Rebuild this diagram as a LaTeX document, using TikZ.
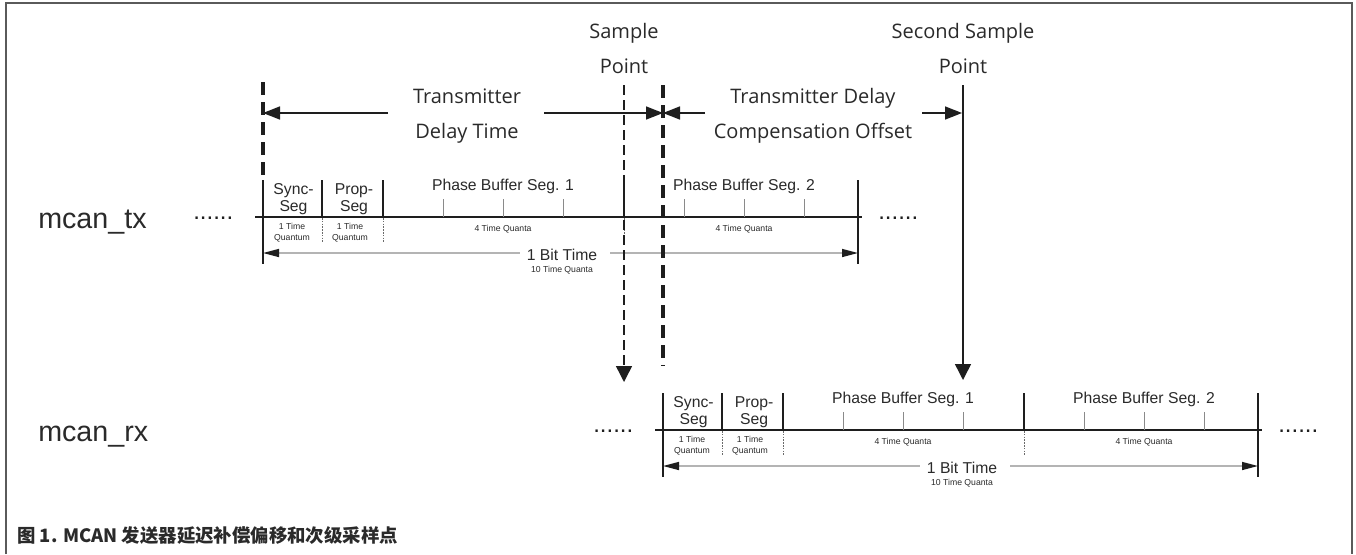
\documentclass[tikz,border=0pt]{standalone}
\usepackage{fontspec}
\setmainfont{Liberation Sans}
\newfontfamily\labfont{Open Sans}
\newfontfamily\capfont{Noto Sans CJK SC}
\usetikzlibrary{arrows.meta}
\definecolor{ink}{HTML}{1E1E1E}
\definecolor{txtc}{HTML}{2A2A2A}
\definecolor{framec}{HTML}{5A5A5A}
\definecolor{lightln}{HTML}{B4B4B4}
\definecolor{qtickc}{HTML}{8A8A8A}
\definecolor{dotc}{HTML}{6A6A6A}
\tikzset{
  baseln/.style={draw=ink,line width=1.5pt},
  bnd/.style={draw=ink,line width=1.5pt},
  qtick/.style={draw=qtickc,line width=0.75pt},
  dotln/.style={draw=dotc,line width=0.75pt,dash pattern=on 1.2pt off 0.9pt},
  bitarr/.style={draw=lightln,line width=1.1pt,-{Triangle[length=12pt,width=6pt,color=ink]}},
  seglab/.style={font=\fontsize{11.8}{12.75}\selectfont,text=txtc,inner sep=0pt,align=center},
  tinylab/.style={font=\fontsize{6.5}{8.25}\selectfont,text=txtc,inner sep=0pt,align=center},
  biglab/.style={font=\labfont\fontsize{15}{26.25}\selectfont,text=txtc,inner sep=0pt,align=center},
  siglab/.style={font=\fontsize{21.5}{24}\selectfont,text=txtc,inner sep=0pt},
  dotslab/.style={font=\fontsize{18}{20}\selectfont,text=ink,inner sep=0pt},
  thickdash/.style={draw=ink,line width=2.3pt,dash pattern=on 9.75pt off 5.25pt},
  thindash/.style={draw=ink,line width=1.1pt,dash pattern=on 7.5pt off 3.75pt},
  hdarr/.style={draw=ink,line width=1.2pt,-{Triangle[length=12.75pt,width=9.75pt]}},
  vdarr/.style={-{Triangle[length=12pt,width=12pt,color=ink]}},
}
\newcommand\bitrow[1]{%
  \coordinate (#1s0) at (263,180);
  \draw[baseln] (255,217) -- (862,217);
  \foreach \x in {322,383,624} \draw[bnd] (\x,180) -- (\x,217);
  \draw[bnd] (#1s0) -- (263,264);
  \draw[bnd] (858,180) -- (858,264);
  \foreach \x in {443,503,563,684,744,804} \draw[qtick] (\x,199) -- (\x,217);
  \foreach \x in {322,383,624} \draw[dotln] (\x,218) -- (\x,243);
  \node[dotslab,anchor=base west] (#1dl) at (193,219) {......};
  \node[dotslab,anchor=base west] (#1dr) at (878,219) {......};
  \node[seglab] (#1sync) at (293.5,199.4) {Sync-\\Seg};
  \node[seglab] (#1prop) at (354,199.5) {Prop-\\Seg};
  \node[seglab,anchor=base] (#1pb1) at (503,190) {Phase Buffer Seg. 1};
  \node[seglab,anchor=base] (#1pb2) at (744,190) {Phase Buffer Seg. 2};
  \node[tinylab] (#1q1) at (292,232.6) {1 Time\\Quantum};
  \node[tinylab] (#1q2) at (350,232.6) {1 Time\\Quantum};
  \node[tinylab,anchor=base] (#1q3) at (503,231) {4 Time Quanta};
  \node[tinylab,anchor=base] (#1q4) at (744,231) {4 Time Quanta};
  \node[seglab,anchor=base] (#1bit) at (562,260) {1 Bit Time};
  \node[tinylab,anchor=base] (#1bitq) at (562,272) {10 Time Quanta};
  \coordinate (#1bl) at (263,253);
  \coordinate (#1br) at (858,253);
  \draw[bitarr] (#1bit.west |- #1bl) ++(-7,0) -- (#1bl);
  \draw[bitarr] (#1bit.east |- #1br) ++(13,0) -- (#1br);
}
\begin{document}
\begin{tikzpicture}[x=0.75pt,y=-0.75pt]
\useasboundingbox (0,0) rectangle (1356,554);
\fill[white] (0,0) rectangle (1356,554);
% frame
\draw[framec,line width=1.5pt] (6,554) -- (6,3) -- (1352,3) -- (1352,554);

% signal labels
\node[siglab,anchor=base west] (tx) at (38,228) {mcan\_tx};
\node[siglab,anchor=base west] (rx) at (38,441) {mcan\_rx};

% rows
\bitrow{t}
\begin{scope}[shift={(400,213)}]
\bitrow{r}
\end{scope}

% top labels
\node[biglab] (sp) at (624,48.5) {Sample\\Point};
\node[biglab] (ssp) at (963,48.5) {Second Sample\\Point};
\node[biglab] (tdt) at (467,115.7) {Transmitter\\Delay Time};
\node[biglab] (tdco) at (813,115.7) {Transmitter Delay\\Compensation Offset};

% vertical markers
\coordinate (d1top) at (263,82);
\draw[thickdash] (d1top) -- (ts0);
\coordinate (d2top) at (663,85);
\coordinate (d2bot) at (663,366);
\draw[thickdash] (d2top) -- (d2bot);
\coordinate (sptop) at (624,85);
\coordinate (spbot) at (624,382);
\draw[thindash,vdarr] (sptop) -- (spbot);
\coordinate (ssptop) at (963,85);
\coordinate (sspbot) at (963,380);
\draw[draw=ink,line width=1.1pt,vdarr] (ssptop) -- (sspbot);

% horizontal delay arrows
\coordinate (a1) at (263,113);
\coordinate (a2) at (663,113);
\coordinate (a3) at (962,113);
\draw[hdarr] (388,113) -- (a1);
\draw[hdarr] (544,113) -- (a2);
\draw[hdarr] (705,113) -- (a2);
\draw[hdarr] (922,113) -- (a3);

% caption
\node[font=\capfont\bfseries\fontsize{13.8}{17}\selectfont,text=txtc,anchor=base west,inner sep=0pt] (cap) at (17,542) {图 1. MCAN 发送器延迟补偿偏移和次级采样点};
\end{tikzpicture}
\end{document}
